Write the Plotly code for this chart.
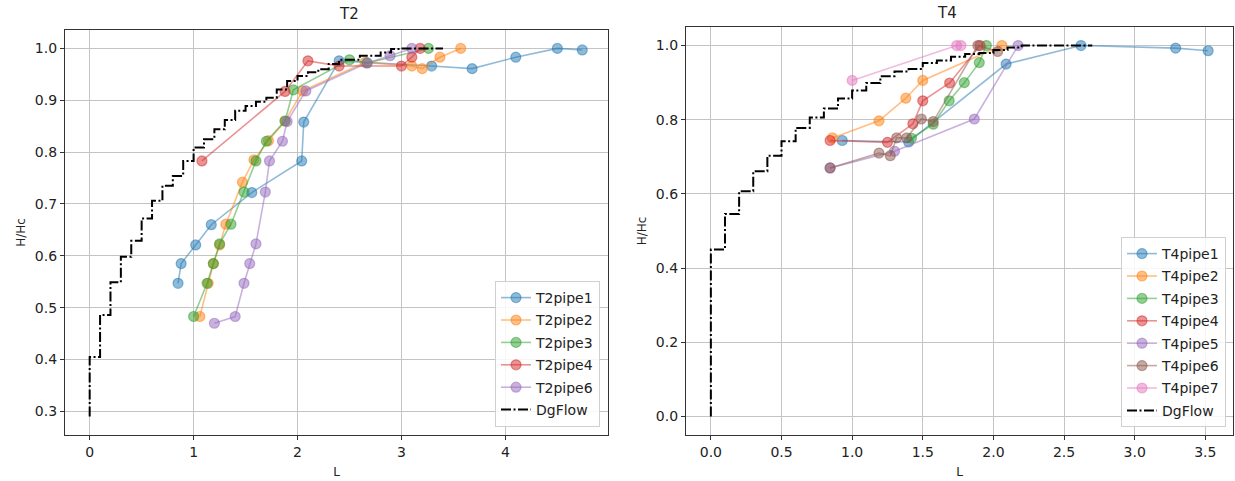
import plotly.graph_objects as go

# ---------------- data: T2 ----------------
t2p1_L = [0.85, 0.88, 1.02, 1.17, 1.56, 2.04, 2.06, 2.40, 3.29, 3.68, 4.10, 4.50, 4.74]
t2p1_H = [0.547, 0.585, 0.621, 0.660, 0.722, 0.783, 0.858, 0.976, 0.966, 0.961, 0.983, 1.000, 0.997]
t2p2_L = [1.06, 1.14, 1.19, 1.25, 1.31, 1.47, 1.58, 1.72, 1.88, 2.05, 2.65, 3.10, 3.20, 3.37, 3.57]
t2p2_H = [0.483, 0.547, 0.585, 0.621, 0.661, 0.742, 0.785, 0.822, 0.860, 0.918, 0.973, 0.966, 0.961, 0.983, 1.000]
t2p3_L = [1.00, 1.13, 1.19, 1.25, 1.36, 1.485, 1.60, 1.70, 1.88, 1.96, 2.50, 2.67, 3.26]
t2p3_H = [0.483, 0.547, 0.585, 0.623, 0.661, 0.723, 0.783, 0.821, 0.860, 0.920, 0.978, 0.972, 1.000]
t2p4_L = [1.08, 1.88, 2.10, 2.40, 3.00, 3.10, 3.18]
t2p4_H = [0.783, 0.917, 0.976, 0.966, 0.966, 0.983, 1.000]
t2p6_L = [1.20, 1.40, 1.485, 1.54, 1.60, 1.69, 1.73, 1.855, 1.90, 2.08, 2.67, 2.89, 3.10]
t2p6_H = [0.470, 0.483, 0.547, 0.585, 0.623, 0.723, 0.783, 0.821, 0.859, 0.918, 0.972, 0.986, 1.000]
t2dg_L = [0.0, 0.1, 0.2, 0.3, 0.4, 0.5, 0.6, 0.7, 0.8, 0.9, 1.0, 1.1, 1.2, 1.3, 1.4, 1.5,
          1.6, 1.7, 1.8, 1.9, 2.0, 2.1, 2.2, 2.3, 2.4, 2.6, 2.8, 2.9, 3.0, 3.4]
t2dg_H = [0.290, 0.405, 0.486, 0.549, 0.598, 0.629, 0.672, 0.706, 0.735, 0.754, 0.783, 0.809,
          0.825, 0.844, 0.862, 0.880, 0.889, 0.897, 0.905, 0.921, 0.937, 0.947, 0.954, 0.960,
          0.970, 0.978, 0.986, 0.992, 0.999, 1.000]

# ---------------- data: T4 ----------------
t4p1_L = [0.93, 1.40, 2.09, 2.62, 3.29, 3.52]
t4p1_H = [0.744, 0.740, 0.950, 1.000, 0.993, 0.986]
t4p2_L = [0.86, 1.19, 1.38, 1.50, 2.06]
t4p2_H = [0.751, 0.797, 0.858, 0.906, 1.000]
t4p3_L = [1.42, 1.574, 1.687, 1.794, 1.90, 1.95]
t4p3_H = [0.750, 0.788, 0.851, 0.900, 0.954, 1.000]
t4p4_L = [0.844, 1.25, 1.43, 1.50, 1.69, 1.905]
t4p4_H = [0.744, 0.739, 0.789, 0.851, 0.899, 1.000]
t4p5_L = [0.844, 1.30, 1.865, 2.175]
t4p5_H = [0.670, 0.715, 0.802, 1.000]
t4p6_L = [0.844, 1.19, 1.27, 1.315, 1.386, 1.49, 1.574, 1.89, 2.03]
t4p6_H = [0.670, 0.710, 0.703, 0.751, 0.751, 0.802, 0.795, 1.000, 0.984]
t4p7_L = [1.00, 1.74, 1.77]
t4p7_H = [0.906, 1.000, 1.000]
t4dg_L = [0.0, 0.1, 0.2, 0.3, 0.4, 0.5, 0.6, 0.7, 0.8, 0.9, 1.0, 1.1, 1.2, 1.3, 1.4, 1.5,
          1.6, 1.7, 1.8, 1.9, 2.0, 2.1, 2.2, 2.7]
t4dg_H = [0.000, 0.450, 0.546, 0.607, 0.661, 0.703, 0.742, 0.778, 0.806, 0.830, 0.857, 0.879,
          0.899, 0.917, 0.930, 0.937, 0.953, 0.960, 0.970, 0.977, 0.980, 0.988, 0.995, 1.000]

tab10 = {"blue": (31, 119, 180), "orange": (255, 127, 14), "green": (44, 160, 44),
         "red": (214, 39, 40), "purple": (148, 103, 189), "brown": (140, 86, 75),
         "pink": (227, 119, 194)}

t2_series = [("T2pipe1", t2p1_L, t2p1_H, "blue"), ("T2pipe2", t2p2_L, t2p2_H, "orange"),
             ("T2pipe3", t2p3_L, t2p3_H, "green"), ("T2pipe4", t2p4_L, t2p4_H, "red"),
             ("T2pipe6", t2p6_L, t2p6_H, "purple")]
t4_series = [("T4pipe1", t4p1_L, t4p1_H, "blue"), ("T4pipe2", t4p2_L, t4p2_H, "orange"),
             ("T4pipe3", t4p3_L, t4p3_H, "green"), ("T4pipe4", t4p4_L, t4p4_H, "red"),
             ("T4pipe5", t4p5_L, t4p5_H, "purple"), ("T4pipe6", t4p6_L, t4p6_H, "brown"),
             ("T4pipe7", t4p7_L, t4p7_H, "pink")]

FONT = "DejaVu Sans"
fig = go.Figure()


def rgba(c, a):
    r, g, b = tab10[c]
    return f"rgba({r},{g},{b},{a})"


def add_series(series, xa, ya, leg):
    for name, xs, ys, c in series:
        fig.add_trace(go.Scatter(
            x=xs, y=ys, name=name, mode="lines+markers", xaxis=xa, yaxis=ya, legend=leg,
            legendgroup=name,
            line=dict(color=rgba(c, 0.5), width=1.6),
            marker=dict(size=10, color=rgba(c, 0.5), line=dict(color=rgba(c, 0.5), width=1.2)),
        ))


def add_dg(xs, ys, xa, ya, leg, grp):
    fig.add_trace(go.Scatter(
        x=xs, y=ys, name="DgFlow", mode="lines", xaxis=xa, yaxis=ya, legend=leg,
        legendgroup=grp,
        line=dict(color="black", width=2, shape="vh", dash="10px,2.5px,2px,2.5px"),
    ))


add_series(t2_series, "x", "y", "legend")
add_dg(t2dg_L, t2dg_H, "x", "y", "legend", "dg2")
add_series(t4_series, "x2", "y2", "legend2")
add_dg(t4dg_L, t4dg_H, "x2", "y2", "legend2", "dg4")

W, H = 1235, 481
ML, MR, MT, MB = 0, 2, 27, 46
PW, PH = W - ML - MR, H - MT - MB


def px_x(p):
    return (p - ML) / PW


def px_y(p):
    return (H - MB - p) / PH


axis_common = dict(showline=True, linecolor="#333333", linewidth=1.2, mirror=True,
                   ticks="outside", ticklen=4, tickcolor="#333333", showgrid=True,
                   gridcolor="#c4c4c4", gridwidth=1, zeroline=False,
                   tickfont=dict(family=FONT, size=14, color="#222222"),
                   title_font=dict(family=FONT, size=12, color="#222222"))

legend_common = dict(xanchor="right", yanchor="bottom", tracegroupgap=1.2,
                     bgcolor="rgba(255,255,255,0.85)", bordercolor="#d0d0d0", borderwidth=1,
                     font=dict(family=FONT, size=14, color="#222222"))

fig.update_layout(
    width=W, height=H, margin=dict(l=ML, r=MR, t=MT, b=MB),
    plot_bgcolor="white", paper_bgcolor="white",
    font=dict(family=FONT, size=14, color="#222222"),
    xaxis=dict(domain=[px_x(65), px_x(608)], range=[-0.2375, 4.9875], tickvals=[0, 1, 2, 3, 4],
               title=dict(text="L", standoff=8), anchor="y", **axis_common),
    yaxis=dict(domain=[0, px_y(30)], range=[0.2545, 1.0355],
               tickvals=[0.3, 0.4, 0.5, 0.6, 0.7, 0.8, 0.9, 1.0], tickformat=".1f",
               title=dict(text="H/Hc", standoff=6), anchor="x", **axis_common),
    xaxis2=dict(domain=[px_x(686), px_x(1233)], range=[-0.176, 3.696],
                tickvals=[0, 0.5, 1.0, 1.5, 2.0, 2.5, 3.0, 3.5], tickformat=".1f",
                title=dict(text="L", standoff=8), anchor="y2", **axis_common),
    yaxis2=dict(domain=[0, px_y(27)], range=[-0.05, 1.05],
                tickvals=[0, 0.2, 0.4, 0.6, 0.8, 1.0], tickformat=".1f",
                title=dict(text="H/Hc", standoff=6), anchor="x2", **axis_common),
    legend=dict(x=px_x(600), y=px_y(427), **legend_common),
    legend2=dict(x=px_x(1226), y=px_y(427), **legend_common),
    showlegend=True,
    annotations=[
        dict(text="T2", x=(px_x(65) + px_x(608)) / 2, y=px_y(14), xref="paper", yref="paper",
             showarrow=False, font=dict(family=FONT, size=15, color="#222222"), yanchor="middle"),
        dict(text="T4", x=(px_x(686) + px_x(1233)) / 2, y=px_y(13), xref="paper", yref="paper",
             showarrow=False, font=dict(family=FONT, size=15, color="#222222"), yanchor="middle"),
    ],
)

fig.write_html("out.html", config={"displayModeBar": False},
               post_script="document.body.style.margin='0';document.body.style.overflow='hidden';")
